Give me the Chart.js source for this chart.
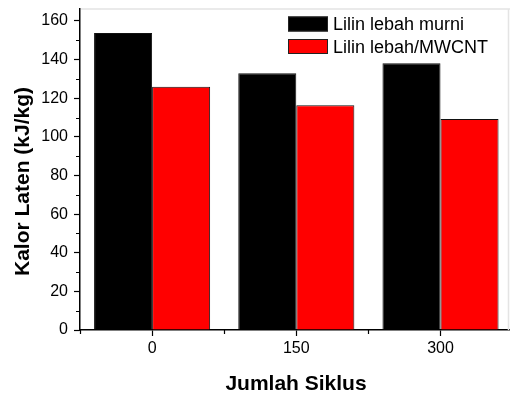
<!DOCTYPE html>
<html>
<head>
<meta charset="utf-8">
<script src="https://cdn.jsdelivr.net/npm/chart.js@4.4.1/dist/chart.umd.min.js"></script>
<style>
  html, body { margin: 0; padding: 0; background: #fff; overflow: hidden; }
  canvas { display: block; }
</style>
</head>
<body>
<canvas id="c" width="510" height="394"></canvas>
<script>
// Latent heat of beeswax samples after thermal cycling
const cycles = ['0', '150', '300'];
const pureWax = [153.8, 132.9, 138.1];
const waxMwcnt = [126.0, 116.4, 109.2];
const seriesNames = ['Lilin lebah murni', 'Lilin lebah/MWCNT'];
const seriesColors = ['#000000', '#ff0000'];
const xTitle = 'Jumlah Siklus';
const yTitle = 'Kalor Laten (kJ/kg)';

const FONT = "'Liberation Sans', Arial, sans-serif";
// the plot frame runs a little past the right edge of the canvas
const PLOT_RIGHT = 512.6;

// Stretch the category axis so the plot runs past the canvas edge
const widenPlot = {
  id: 'widenPlot',
  afterLayout(chart) {
    const xs = chart.scales.x;
    chart.chartArea.right = PLOT_RIGHT;
    chart.chartArea.width = PLOT_RIGHT - chart.chartArea.left;
    xs.right = PLOT_RIGHT;
    xs.width = PLOT_RIGHT - xs.left;
    xs.configure();
  }
};

// Minor ticks, the light frame, axis titles and the legend box
const decorations = {
  id: 'decorations',
  afterDraw(chart) {
    const ctx = chart.ctx;
    const xs = chart.scales.x, ys = chart.scales.y;
    const area = chart.chartArea;
    ctx.save();

    // light frame on top and right
    ctx.strokeStyle = '#e4e4e4';
    ctx.lineWidth = 1.5;
    ctx.beginPath();
    ctx.moveTo(area.left + 1, 9);
    ctx.lineTo(510, 9);
    ctx.moveTo(508.5, 9);
    ctx.lineTo(508.5, area.bottom);
    ctx.stroke();

    // minor ticks
    ctx.strokeStyle = '#000';
    ctx.lineWidth = 1.2;
    ctx.beginPath();
    for (let v = 10; v < ys.max; v += 20) {
      const y = Math.round(ys.getPixelForValue(v)) + 0.5;
      ctx.moveTo(area.left - 4, y);
      ctx.lineTo(area.left, y);
    }
    for (let i = 0; i <= cycles.length; i++) {
      const x = Math.round(xs.getPixelForValue(i - 0.5)) + 0.5;
      ctx.moveTo(x, area.bottom);
      ctx.lineTo(x, area.bottom + 4);
    }
    ctx.stroke();

    // axis titles
    ctx.fillStyle = '#000';
    ctx.font = 'bold 21px ' + FONT;
    ctx.textAlign = 'center';
    ctx.textBaseline = 'alphabetic';
    ctx.fillText(xTitle, 296, 390);
    ctx.save();
    ctx.translate(28.5, 181.5);
    ctx.rotate(-Math.PI / 2);
    ctx.fillText(yTitle, 0, 0);
    ctx.restore();

    // legend
    ctx.font = '18px ' + FONT;
    ctx.textAlign = 'left';
    const rows = [16.5, 39];
    chart.data.datasets.forEach((ds, i) => {
      const top = rows[i];
      ctx.fillStyle = ds.backgroundColor;
      ctx.fillRect(288, top, 40, 15);
      ctx.strokeStyle = '#222';
      ctx.lineWidth = 1;
      ctx.strokeRect(288.5, top + 0.5, 39, 14);
      ctx.fillStyle = '#000';
      ctx.fillText(ds.label, 333, top + 13.5);
    });
    ctx.restore();
  }
};

new Chart(document.getElementById('c'), {
  type: 'bar',
  data: {
    labels: cycles,
    datasets: [
      { label: seriesNames[0], data: pureWax, backgroundColor: seriesColors[0], borderColor: '#111', borderWidth: 1 },
      { label: seriesNames[1], data: waxMwcnt, backgroundColor: seriesColors[1], borderColor: '#111', borderWidth: 1 }
    ]
  },
  options: {
    responsive: false,
    devicePixelRatio: 1,
    animation: false,
    layout: { padding: { top: 9, right: 0, bottom: 0, left: 0 } },
    datasets: { bar: { categoryPercentage: 0.805, barPercentage: 1.0 } },
    plugins: { legend: { display: false }, tooltip: { enabled: false } },
    scales: {
      x: {
        offset: true,
        grid: { display: true, offset: false, drawOnChartArea: false, drawTicks: true, tickLength: 6, tickColor: '#000', tickWidth: 1.2 },
        border: { display: true, color: '#000', width: 1.5 },
        ticks: { color: '#000', font: { family: FONT, size: 16 }, padding: 3, maxRotation: 0 },
        afterFit(s) { s.height = 64; s.paddingLeft = 0; s.paddingRight = 0; }
      },
      y: {
        min: 0,
        max: 166.2,
        grid: { display: true, drawOnChartArea: false, drawTicks: true, tickLength: 6, tickColor: '#000', tickWidth: 1.2 },
        border: { display: true, color: '#000', width: 1.5 },
        ticks: { stepSize: 20, includeBounds: false, color: '#000', font: { family: FONT, size: 16 }, padding: 6 },
        afterFit(s) { s.width = 80; s.paddingTop = 0; s.paddingBottom = 0; }
      }
    }
  },
  plugins: [widenPlot, decorations]
});
</script>
</body>
</html>
